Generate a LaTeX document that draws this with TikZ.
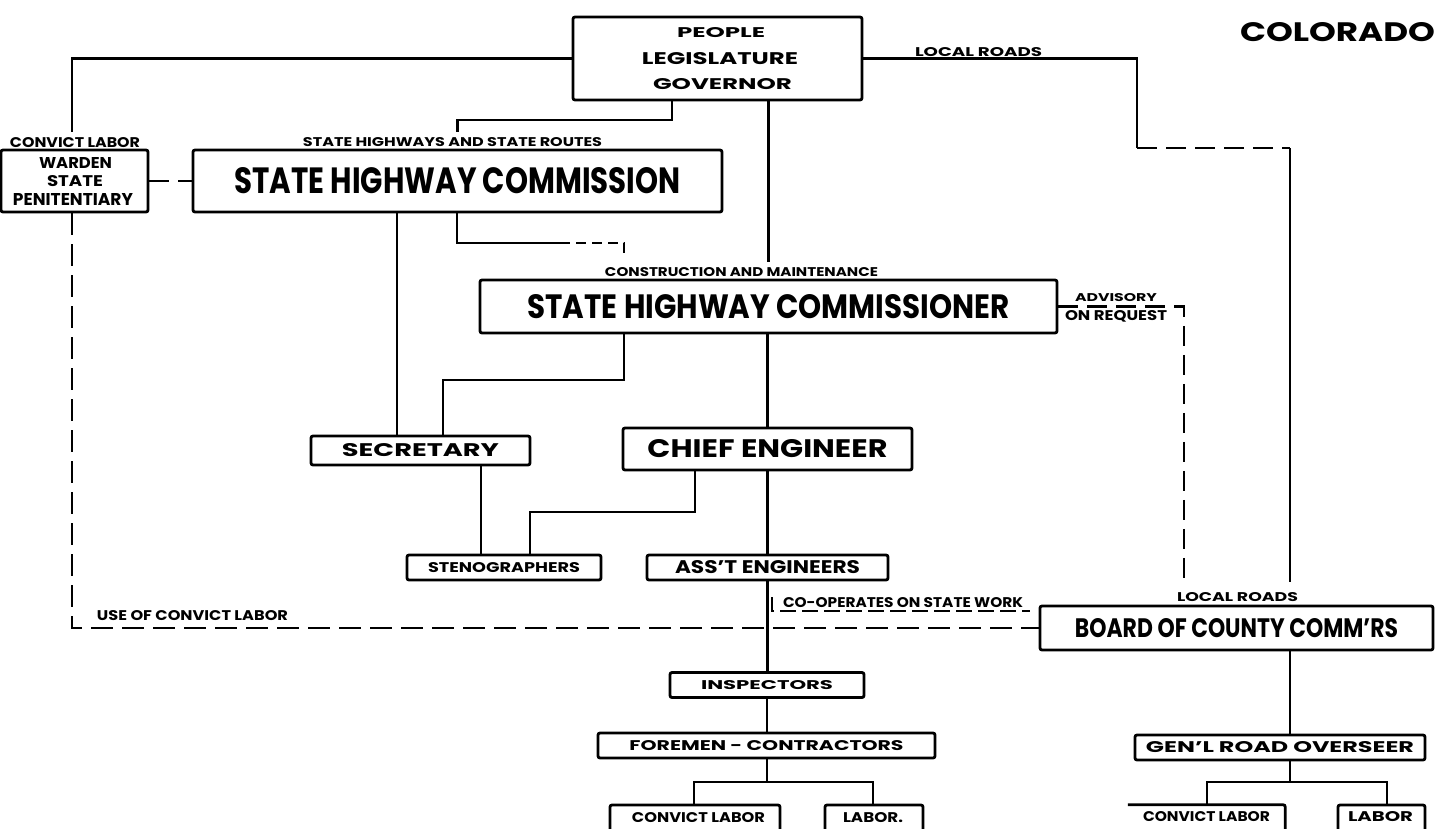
\documentclass[tikz,border=0pt]{standalone}
\usepackage{fontspec}
\setmainfont{Poppins}
\usepackage{graphicx}
\newcommand\T[3]{\resizebox{#1pt}{#2pt}{\bfseries #3}}
\tikzset{
  box/.style={draw, line width=2.8pt, rounded corners=2pt, inner sep=0pt},
  wh/.style 2 args={minimum width=#1pt, minimum height=#2pt},
  conn/.style={line width=2.3pt},
  dsh/.style={conn, dash pattern=on 20pt off 9pt},
  lbl/.style={inner sep=0pt},
}
\begin{document}
\begin{tikzpicture}[x=1pt,y=-1pt]
\useasboundingbox (0,0) rectangle (1435,828);
\clip (0,0) rectangle (1435,828);

% title
\node[lbl] (title) at (1337.5,32) {\T{195}{19}{COLORADO}};

% boxes
\node[box, wh={289}{83}] (people) at (717.5,58.5) {};
\node[lbl] (p1) at (721,33) {\T{88}{10}{PEOPLE}};
\node[lbl] (p2) at (720,58.5) {\T{156}{12}{LEGISLATURE}};
\node[lbl] (p3) at (722.5,84.5) {\T{139}{11}{GOVERNOR}};

\node[box, wh={147}{62}] (warden) at (74.5,181) {};
\node[lbl] (w1t) at (75.5,162.5) {\T{73}{11}{WARDEN}};
\node[lbl] (w2t) at (75,181) {\T{56}{11}{STATE}};
\node[lbl] (w3t) at (73,199) {\T{120}{12}{PENITENTIARY}};
\node[lbl] (wlab) at (75,142.5) {\T{130}{10}{CONVICT LABOR}};

\node[box, wh={529}{62}] (shc) at (457.5,181) {\T{446}{26}{STATE HIGHWAY COMMISSION}};
\node[lbl] (shcl) at (452.5,142) {\T{299}{9}{STATE HIGHWAYS AND STATE ROUTES}};

\node[lbl] (lr) at (978.5,52.5) {\T{127}{9}{LOCAL ROADS}};

\node[box, wh={577}{53}] (comm) at (768.5,306.5) {\T{482}{24}{STATE HIGHWAY COMMISSIONER}};
\node[lbl] (cml) at (741.5,272) {\T{273}{9}{CONSTRUCTION AND MAINTENANCE}};
\node[lbl] (adv1) at (1116,297.5) {\T{82}{8}{ADVISORY}};
\node[lbl] (adv2) at (1116,316) {\T{102}{10}{ON REQUEST}};

\node[box, wh={219}{29}] (sec) at (420.5,450.5) {\T{157}{13}{SECRETARY}};
\node[box, wh={289}{42}] (chief) at (767.5,449) {\T{240}{18}{CHIEF ENGINEER}};
\node[box, wh={194}{25}] (steno) at (504,567.5) {\T{152}{10}{STENOGRAPHERS}};
\node[box, wh={241}{25}] (asst) at (767.5,567.5) {\T{185}{13}{ASS'T ENGINEERS}};

\node[lbl] (ucl) at (192.5,616) {\T{191}{10}{USE OF CONVICT LABOR}};
\node[lbl] (coop) at (903,603) {\T{240}{10}{CO-OPERATES ON STATE WORK}};
\node[lbl] (lr2) at (1237.5,597) {\T{121}{9}{LOCAL ROADS}};

\node[box, wh={393}{44}] (board) at (1236.5,628) {\T{323}{19}{BOARD OF COUNTY COMM'RS}};

\node[box, wh={194}{25}] (insp) at (767,685) {\T{132}{9}{INSPECTORS}};
\node[box, wh={337}{25}] (fore) at (766.5,745.5) {\T{274}{10}{FOREMEN - CONTRACTORS}};
\node[box, wh={170}{50}] (cl1) at (695,830) {};
\node[lbl] (cl1t) at (698.5,818) {\T{133}{10}{CONVICT LABOR}};
\node[box, wh={98}{50}] (lab1) at (874,830) {};
\node[lbl] (lab1t) at (873,818) {\T{60}{10}{LABOR.}};

\node[box, wh={290}{25}] (gen) at (1280,747.5) {\T{268}{11}{GEN'L ROAD OVERSEER}};
\node[inner sep=0pt, wh={157}{50}] (cl2) at (1206.5,830) {};
\draw[line width=2.8pt, rounded corners=2pt] (cl2.north west) -- (cl2.north east) -- (cl2.south east);
\node[lbl] (cl2t) at (1206.5,817) {\T{127}{10}{CONVICT LABOR}};
\node[box, wh={87}{50}] (lab2) at (1381.5,830) {};
\node[lbl] (lab2t) at (1380.5,817) {\T{65}{10}{LABOR}};

% connectors
\coordinate (w1) at (72,132);
\draw[conn] (people.west) -| (w1);
\coordinate (a1) at (672,120);
\coordinate (a2) at (457.5,132);
\draw[conn] (people.south -| a1) -- (a1) -| (a2);
\coordinate (n1) at (768.5,262);
\draw[conn] (people.south -| n1) -- (n1);
\coordinate (b1) at (1137,148);
\coordinate (b2) at (1290,148);
\coordinate (b3) at (1290,582);
\draw[conn] (people.east) -| (b1);
\draw[dsh] (b1) -- (b2);
\draw[conn] (b2) -- (b3);

\draw[dsh] (warden.east) -- (shc.west);
\draw[dsh, dash pattern=on 22pt off 9pt] (warden.south -| w1) |- (board.west);

\coordinate (c1) at (397,0);
\draw[conn] (shc.south -| c1) -- (sec.north -| c1);
\coordinate (d1) at (457,243);
\coordinate (d2) at (560,243);
\coordinate (d3) at (624,243);
\coordinate (d4) at (624,258);
\draw[conn] (shc.south -| d1) -- (d1) -- (d2);
\draw[conn, dash pattern=on 10pt off 6pt] (d2) -- (d3) -- (d4);

\coordinate (e1) at (624,380);
\coordinate (e2) at (443,380);
\draw[conn] (comm.south -| e1) -- (e1) -- (e2) -- (sec.north -| e2);
\draw[conn] (comm.south -| chief.north) -- (chief.north);

\coordinate (f1) at (481,0);
\draw[conn] (sec.south -| f1) -- (steno.north -| f1);
\coordinate (g1) at (695,512);
\coordinate (g2) at (530,512);
\draw[conn] (chief.south -| g1) -- (g1) -- (g2) -- (steno.north -| g2);
\draw[conn] (chief.south) -- (asst.north);
\draw[conn] (asst.south) -- (asst.south |- insp.north);
\draw[conn] (insp.south) -- (insp.south |- fore.north);

\coordinate (h0) at (767,782);
\coordinate (h1) at (694,782);
\coordinate (h2) at (873,782);
\draw[conn] (fore.south -| h0) -- (h0);
\draw[conn] (h1 |- cl1.north) -- (h1) -- (h2) -- (h2 |- lab1.north);

\coordinate (i0) at (1290,0);
\draw[conn] (board.south -| i0) -- (gen.north -| i0);
\coordinate (j0) at (1290,782);
\coordinate (j1) at (1207,782);
\coordinate (j2) at (1387,782);
\draw[conn] (gen.south -| j0) -- (j0);
\draw[conn] (j1 |- cl2.north) -- (j1) -- (j2) -- (j2 |- lab2.north);

\coordinate (k1) at (1184,306.5);
\coordinate (k2) at (1184,582);
\draw[dsh] (comm.east) -- (k1) -- (k2);

\coordinate (m1) at (772,597);
\coordinate (m2) at (1030,611);
\draw[conn, dash pattern=on 16pt off 6pt] (m1) |- (m2);
\end{tikzpicture}
\end{document}
